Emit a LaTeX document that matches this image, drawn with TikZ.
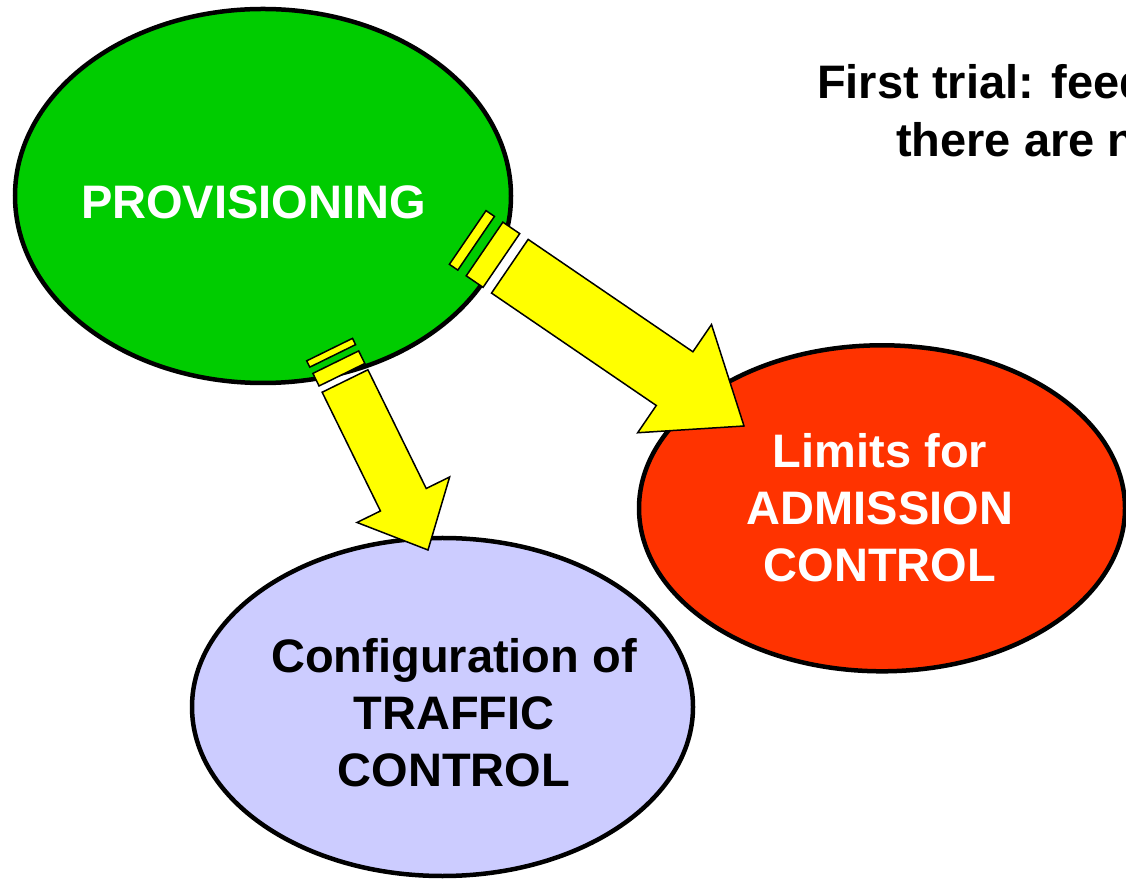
\documentclass[tikz,border=0pt]{standalone}
\usepackage{fontspec}
\setmainfont{Liberation Sans}
\usetikzlibrary{shapes.geometric,calc}

\definecolor{provgreen}{HTML}{00CC00}
\definecolor{admred}{HTML}{FF3300}
\definecolor{traflilac}{HTML}{CCCCFF}
\definecolor{arrowyellow}{HTML}{FFFF00}

% Striped block arrow from #1 to #2:
% #3 stripe unit, #4 half shaft width, #5 half head width, #6 head length
\newcommand\stripedarrow[6]{%
  \filldraw[blockarrow]
    let \p1=($(#2)-(#1)$), \n1={atan2(\y1,\x1)}, \n2={veclen(\x1,\y1)} in
    % thin stripe
    ($(#1)+(\n1+90:#4)$) -- ($(#1)+(\n1:#3)+(\n1+90:#4)$)
      -- ($(#1)+(\n1:#3)+(\n1-90:#4)$) -- ($(#1)+(\n1-90:#4)$) -- cycle
    % wide stripe
    ($(#1)+(\n1:{2*#3})+(\n1+90:#4)$) -- ($(#1)+(\n1:{4*#3})+(\n1+90:#4)$)
      -- ($(#1)+(\n1:{4*#3})+(\n1-90:#4)$) -- ($(#1)+(\n1:{2*#3})+(\n1-90:#4)$) -- cycle
    % shaft and head
    ($(#1)+(\n1:{5*#3})+(\n1+90:#4)$) -- ($(#1)+(\n1:{\n2-#6})+(\n1+90:#4)$)
      -- ($(#1)+(\n1:{\n2-#6})+(\n1+90:#5)$) -- (#2)
      -- ($(#1)+(\n1:{\n2-#6})+(\n1-90:#5)$) -- ($(#1)+(\n1:{\n2-#6})+(\n1-90:#4)$)
      -- ($(#1)+(\n1:{5*#3})+(\n1-90:#4)$) -- cycle;%
}

\tikzset{
  bubble/.style={ellipse, draw=black, line width=4.5pt, inner sep=0pt},
  bubbletext/.style={align=center, inner sep=0pt,
    font=\fontsize{47}{57}\selectfont\bfseries},
  headline/.style={anchor=base west, inner sep=0pt,
    font=\fontsize{47}{57}\selectfont\bfseries},
  blockarrow/.style={fill=arrowyellow, draw=black, line width=1.5pt, line join=miter},
}

\begin{document}
\begin{tikzpicture}[x=1pt, y=1pt]
  \useasboundingbox (0,0) rectangle (1126,878);
  \clip (0,0) rectangle (1126,878);
  \fill[white] (0,0) rectangle (1126,878);

  % the three bubbles
  \node[bubble, fill=provgreen, minimum width=496, minimum height=374] (prov) at (263,682) {};
  \node[bubble, fill=admred, minimum width=486, minimum height=326] (adm) at (882,369.7) {};
  \node[bubble, fill=traflilac, minimum width=501, minimum height=338] (traf) at (442.5,171) {};

  \node[bubbletext, text=white] (provtext) at (253.5,676) {PROVISIONING};
  \node[bubbletext, text=white] (admtext) at (880,370.3) {Limits for\\ADMISSION\\CONTROL};
  \node[bubbletext, text=black] (traftext) at (454,165.6) {Configuration of\\TRAFFIC\\CONTROL};

  % heading, running on past the right edge
  \node[headline] (head1) at (817,779) {First trial: feedback};
  \node[headline] (head2) at (896,721) {there are no};

  % arrow ends
  \coordinate (a1s) at ($(prov.center)+(204.7,-41.5)$);
  \coordinate (a1e) at ($(adm.center)+(-138,82.3)$);
  \coordinate (a2s) at ($(prov.center)+(66.6,-153.6)$);
  \coordinate (a2e) at ($(traf.center)+(-14.5,157)$);

  \stripedarrow{a1s}{a1e}{10.2}{32.5}{65.5}{84}
  \stripedarrow{a2s}{a2e}{7}{25.5}{51.6}{56}
\end{tikzpicture}
\end{document}
